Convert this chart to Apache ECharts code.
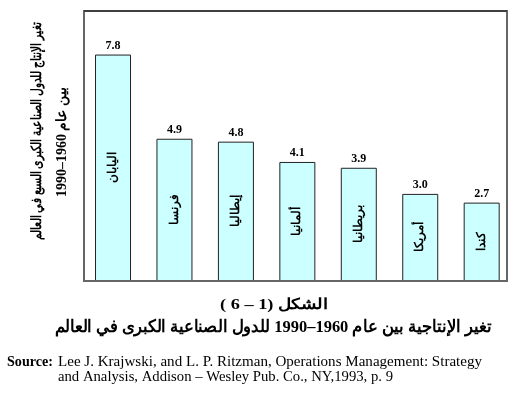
<!DOCTYPE html>
<html>
<head>
<meta charset="utf-8">
<script src="https://cdn.jsdelivr.net/npm/echarts@6/dist/echarts.min.js"></script>
<style>html,body{margin:0;padding:0;background:#fff}#c{width:526px;height:393px}</style>
</head>
<body>
<div id="c"></div>
<script>
const countries = ['اليابان', 'فرنسا', 'إيطاليا', 'ألمانيا', 'بريطانيا', 'أمريكا', 'كندا'];
const growth = [7.8, 4.9, 4.8, 4.1, 3.9, 3.0, 2.7];
// text pieces listed right-to-left (Arabic runs and number runs kept apart)
const yTitle1 = ['تغير الإنتاج للدول الصناعية الكبرى السبع في العالم'];
const yTitle2 = ['بين عام', '1990–1960'];
const figNo = ['الشكل', '( 6 – 1)'];
const figTitle = ['تغير الإنتاجية بين عام', '1990–1960', 'للدول الصناعية الكبرى في العالم'];
const sourceLabel = 'Source:';
const source1 = 'Lee J. Krajwski, and L. P. Ritzman, Operations Management: Strategy';
const source2 = 'and Analysis, Addison – Wesley Pub. Co., NY,1993, p. 9';

const serif = '"Liberation Serif", "Times New Roman", "DejaVu Serif", serif';
const mctx = document.createElement('canvas').getContext('2d');
function tw(text, size, bold) {
  mctx.font = (bold ? 'bold ' : '') + size + 'px ' + serif;
  return mctx.measureText(text).width;
}
// build a group of text pieces laid out right-to-left, centred at (cx, cy),
// squeezed/stretched along its direction to a target length
function rtlLine(pieces, cx, cy, size, target, rotation) {
  const gap = tw(' ', size, true);
  const widths = pieces.map(p => tw(p, size, true));
  const total = widths.reduce((a, b) => a + b, 0) + gap * (pieces.length - 1);
  let right = total / 2;
  const children = pieces.map((p, i) => {
    const el = {type: 'text', x: right, y: 0,
      style: {text: p, fontFamily: serif, fontWeight: 'bold', fontSize: size,
        fill: '#000', align: 'right', verticalAlign: 'middle'}};
    right -= widths[i] + gap;
    return el;
  });
  return {type: 'group', x: cx, y: cy, rotation: rotation || 0,
    scaleX: target / total, scaleY: 1, z: 10, children};
}
function ltrText(text, x, y, size, bold, target) {
  const w = tw(text, size, bold);
  return {type: 'text', x, y, scaleX: target / w, scaleY: 1, z: 10,
    style: {text, fontFamily: serif, fontWeight: bold ? 'bold' : 'normal', fontSize: size,
      fill: '#000', align: 'left', verticalAlign: 'middle'}};
}

const chart = echarts.init(document.getElementById('c'), null, {renderer: 'canvas'});
chart.setOption({
  animation: false,
  backgroundColor: '#fff',
  grid: {left: 82.3, right: 13.6, top: 11, bottom: 112},
  xAxis: {type: 'category', data: countries, show: false},
  yAxis: {type: 'value', min: 0, max: 9.3, show: false},
  series: [
    {
      type: 'bar', data: growth, barWidth: 36,
      itemStyle: {color: '#CCFFFF', borderColor: '#222', borderWidth: 1},
      label: {show: true, position: 'top', distance: 3, color: '#000',
        fontFamily: serif, fontWeight: 'bold', fontSize: 12,
        formatter: p => p.value.toFixed(1)}
    },
    {
      type: 'bar', data: growth, barWidth: 36, barGap: '-100%', silent: true, z: 3,
      itemStyle: {color: 'rgba(0,0,0,0)', borderWidth: 0},
      label: {show: true, position: 'inside', rotate: 90, color: '#000',
        fontFamily: serif, fontWeight: 'bold', fontSize: 12,
        formatter: p => p.name}
    }
  ],
  graphic: [
    {type: 'rect', shape: {x: 84, y: 11, width: 423, height: 270},
      style: {fill: 'none', stroke: '#666', lineWidth: 2}, z: 10},
    {type: 'line', shape: {x1: 84, y1: 11, x2: 507, y2: 11},
      style: {stroke: '#333', lineWidth: 1.5}, z: 11},
    rtlLine(yTitle1, 37, 131, 14, 218, Math.PI / 2),
    rtlLine(yTitle2, 62, 142, 14, 110, Math.PI / 2),
    rtlLine(figNo, 274, 305, 15, 108, 0),
    rtlLine(figTitle, 273, 328, 17, 437, 0),
    ltrText(sourceLabel, 7, 362, 14, true, 46),
    ltrText(source1, 58, 362, 14, false, 424),
    ltrText(source2, 58, 377, 14, false, 335)
  ]
});
</script>
</body>
</html>
